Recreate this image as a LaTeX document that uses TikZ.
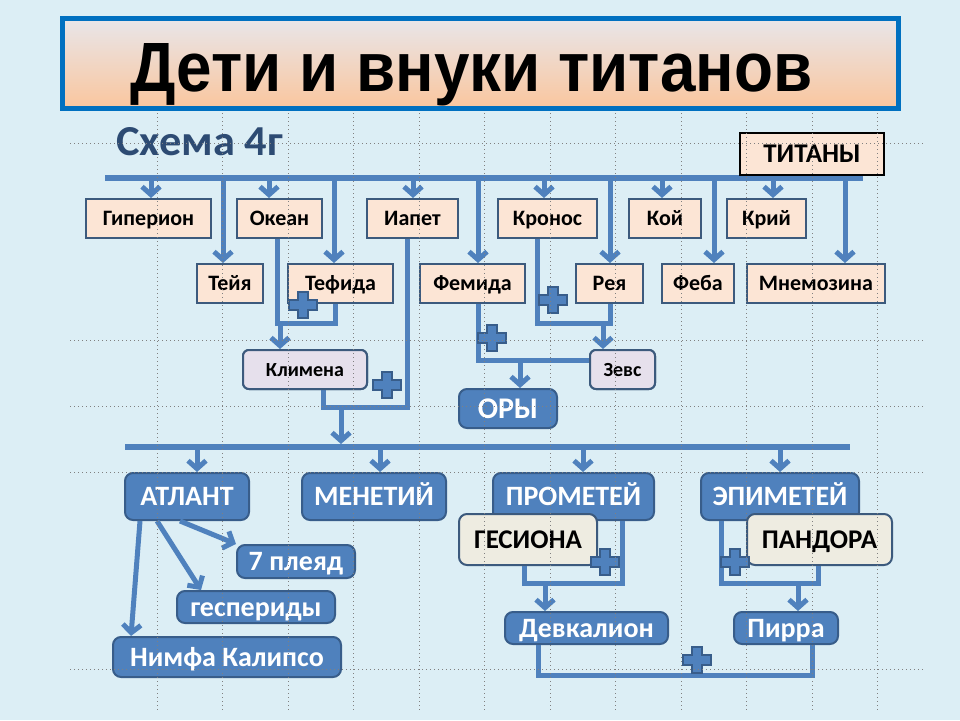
\documentclass[tikz,border=0pt]{standalone}
\usepackage{fontspec}
\setmainfont{Carlito}
\newfontfamily\titlefont{Liberation Sans}
\usetikzlibrary{arrows.meta,calc}
\definecolor{bg}{RGB}{220,238,245}
\definecolor{lineblue}{RGB}{79,129,189}
\definecolor{bborder}{RGB}{56,93,138}
\definecolor{tborder}{RGB}{60,90,125}
\definecolor{peach}{RGB}{252,229,213}
\definecolor{lav}{RGB}{230,224,236}
\definecolor{cream}{RGB}{238,236,225}
\definecolor{titleblue}{RGB}{0,112,192}
\definecolor{ttop}{RGB}{232,230,234}
\definecolor{tbot}{RGB}{250,198,158}
\definecolor{schema}{RGB}{45,75,115}
\begin{document}
\begin{tikzpicture}[x=1pt,y=-1pt,
  ln/.style={draw=lineblue,line width=5pt},
  arr/.style={draw=lineblue,line width=5pt,-{Straight Barb[length=8pt,width=18pt]}},
  tbox/.style={draw=tborder,fill=peach,line width=2pt,inner sep=0pt,minimum height=39pt,text height=14pt,text depth=0pt,font=\bfseries\fontsize{22}{26}\selectfont},
  lbox/.style={draw=tborder,fill=lav,line width=2pt,rounded corners=6pt,inner sep=0pt,minimum height=39pt,text height=13pt,text depth=0pt,font=\bfseries\fontsize{20}{24}\selectfont},
  bbox/.style={draw=bborder,fill=lineblue,line width=2pt,rounded corners=8pt,inner sep=0pt,text=white,text height=18pt,text depth=0pt,font=\bfseries\fontsize{28}{32}\selectfont},
  cbox/.style={draw=tborder,fill=cream,line width=2pt,rounded corners=8pt,inner sep=0pt,minimum height=51pt,text height=17.5pt,text depth=0pt,font=\bfseries\fontsize{27}{31}\selectfont},
  gridline/.style={draw=black!50,line width=0.8pt,dash pattern=on 0.8pt off 3.2pt},
  crossmark/.pic={\draw[draw=bborder,fill=lineblue,line width=1.2pt]
     (-14,-5) -- (-5,-5) -- (-5,-13) -- (5,-13) -- (5,-5) -- (14,-5) -- (14,5) -- (5,5) -- (5,13) -- (-5,13) -- (-5,5) -- (-14,5) -- cycle;}
]
\fill[bg] (0,0) rectangle (960,720);
\useasboundingbox (0,0) rectangle (960,720);

% title
\node[draw=titleblue,line width=5pt,top color=ttop,bottom color=tbot,minimum width=836pt,minimum height=90pt,inner sep=0pt] (titlebox) at (480,63) {};
\node[anchor=base west,inner sep=0pt] (title) at (130,91) {\resizebox{682pt}{48pt}{\titlefont\bfseries Дети и внуки титанов}};
\node[anchor=base west,inner sep=0pt,text=schema] (schema) at (116,155) {\resizebox{167pt}{28pt}{\bfseries Схема 4г}};

% buses
\coordinate (b1L) at (105,178);
\coordinate (b1R) at (863,178);
\coordinate (b2L) at (125,447);
\coordinate (b2R) at (850,447);
\draw[ln,line width=6pt] (b1L) -- (b1R);
\draw[ln,line width=6pt] (b2L) -- (b2R);

% titans
\node[tbox,draw=black,minimum width=144pt,minimum height=42pt,text height=17pt,font=\bfseries\fontsize{27}{30}\selectfont] (Tit) at (812,154) {ТИТАНЫ};
\node[tbox,minimum width=125pt] (Hyp) at (148.5,218.5) {Гиперион};
\node[tbox,minimum width=85pt] (Okean) at (279.5,218.5) {Океан};
\node[tbox,minimum width=91pt] (Iapet) at (412.5,218.5) {Иапет};
\node[tbox,minimum width=99pt] (Kronos) at (547.5,218.5) {Кронос};
\node[tbox,minimum width=72pt] (Koi) at (665,218.5) {Кой};
\node[tbox,minimum width=79pt] (Krii) at (766.5,218.5) {Крий};
\node[tbox,minimum width=66pt] (Teiya) at (230,283.5) {Тейя};
\node[tbox,minimum width=105pt] (Tefida) at (340.5,283.5) {Тефида};
\node[tbox,minimum width=105pt] (Femida) at (472.5,283.5) {Фемида};
\node[tbox,minimum width=67pt] (Reya) at (609.5,283.5) {Рея};
\node[tbox,minimum width=72pt] (Feba) at (698,283.5) {Феба};
\node[tbox,minimum width=138pt] (Mnem) at (816,283.5) {Мнемозина};

\foreach \n/\dx in {Hyp/2.5,Teiya/-7,Okean/-10.5,Tefida/-6.5,Iapet/0.5,Femida/5.5,Kronos/-3.5,Reya/0.5,Koi/-3,Feba/16,Krii/6.5,Mnem/29}
  \draw[arr] ([xshift=\dx pt]\n.north |- b1L) -- ([xshift=\dx pt]\n.north);

% middle
\node[lbox,minimum width=124pt] (Klim) at (305,369.5) {Климена};
\node[lbox,minimum width=65pt] (Zeus) at (622.5,369.5) {Зевс};
\node[bbox,minimum width=98pt,minimum height=39pt,text height=19pt,font=\bfseries\fontsize{30}{34}\selectfont] (Ory) at (508,408.5) {ОРЫ};

\coordinate (j1) at (306,323);
\draw[ln] ([xshift=-2.5pt]Okean.south) |- (j1) -| ([xshift=-5.5pt]Tefida.south);
\draw[arr] ([xshift=-26pt]j1) -- ([xshift=-26pt]j1 |- Klim.north);
\coordinate (j2) at (365,407);
\draw[ln] ([xshift=18pt]Klim.south) |- (j2) -| ([xshift=-5.5pt]Iapet.south);
\draw[arr] ([xshift=-24pt]j2) -- ([xshift=-24pt,yshift=3pt]j2 |- b2L);
\coordinate (j3) at (520,360);
\draw[ln] ([xshift=5.5pt]Femida.south) |- ([yshift=9.5pt]Zeus.west);
\draw[arr] (j3) -- (j3 |- Ory.north);
\coordinate (j4) at (573,323);
\draw[ln] ([xshift=-10.5pt]Kronos.south) |- (j4) -| ([xshift=0.5pt]Reya.south);
\draw[arr] ([xshift=30pt]j4) -- ([xshift=30pt]j4 |- Zeus.north);

% redraw boxes over line starts
\node[lbox,minimum width=124pt] at (Klim) {Климена};
\node[lbox,minimum width=65pt] at (Zeus) {Зевс};

% children of Iapet
\node[bbox,minimum width=124pt,minimum height=47pt] (Atl) at (187,496.5) {АТЛАНТ};
\node[bbox,minimum width=144pt,minimum height=47pt] (Men) at (374,496.5) {МЕНЕТИЙ};
\node[bbox,minimum width=161pt,minimum height=47pt] (Prom) at (573.5,496.5) {ПРОМЕТЕЙ};
\node[bbox,minimum width=158pt,minimum height=47pt] (Epi) at (780,496.5) {ЭПИМЕТЕЙ};
\foreach \n/\dx in {Atl/10,Men/6,Prom/9.5,Epi/0}
  \draw[arr] ([xshift=\dx pt]\n.north |- b2L) -- ([xshift=\dx pt]\n.north);

\node[cbox,minimum width=138pt] (Hes) at (528,539.5) {ГЕСИОНА};
\node[cbox,minimum width=145pt] (Pan) at (819.5,539.5) {ПАНДОРА};

\node[bbox,minimum width=118pt,minimum height=33pt] (Pl) at (296,561.5) {7 плеяд};
\node[bbox,minimum width=158pt,minimum height=32pt] (Hesp) at (256,607) {геспериды};
\node[bbox,minimum width=228pt,minimum height=40pt] (Nym) at (227,657) {Нимфа Калипсо};
\draw[arr] ([xshift=-7pt]Atl.south) -- (Pl.north west);
\draw[arr] ([xshift=-30pt]Atl.south) -- ([xshift=25pt]Hesp.north west);
\draw[arr] ([xshift=-47pt]Atl.south) -- ([xshift=19pt]Nym.north west);

\node[bbox,minimum width=163pt,minimum height=32pt] (Dev) at (586.5,628) {Девкалион};
\node[bbox,minimum width=104pt,minimum height=32pt] (Pirra) at (786,628) {Пирра};

\coordinate (j5) at (573,583);
\draw[ln] ([xshift=-4pt]Hes.south) |- (j5) -| ([xshift=48.5pt]Prom.south);
\draw[arr] ([xshift=-28pt]j5) -- ([xshift=-28pt]j5 |- Dev.north);
\coordinate (j6) at (770,583);
\draw[ln] ([xshift=-59pt]Epi.south) |- (j6) -| ([xshift=-1.5pt]Pan.south);
\draw[arr] ([xshift=28pt]j6) -- ([xshift=28pt]j6 |- Pirra.north);
\coordinate (j7) at (675,675);
\draw[ln] ([xshift=-48.5pt]Dev.south) |- (j7) -| ([xshift=26pt]Pirra.south);

% plus signs
\pic at (303,305) {crossmark};
\pic at (387,385) {crossmark};
\pic at (492,338) {crossmark};
\pic at (553,300) {crossmark};
\pic at (605,562) {crossmark};
\pic at (735,562) {crossmark};
\pic at (697,660) {crossmark};

% grid
\foreach \k in {0,...,11}
  \draw[gridline] (157+65.5*\k,113) -- (157+65.5*\k,712);
\foreach \yy in {143,340,406,472,669}
  \draw[gridline] (70,\yy) -- (925,\yy);
\end{tikzpicture}
\end{document}
